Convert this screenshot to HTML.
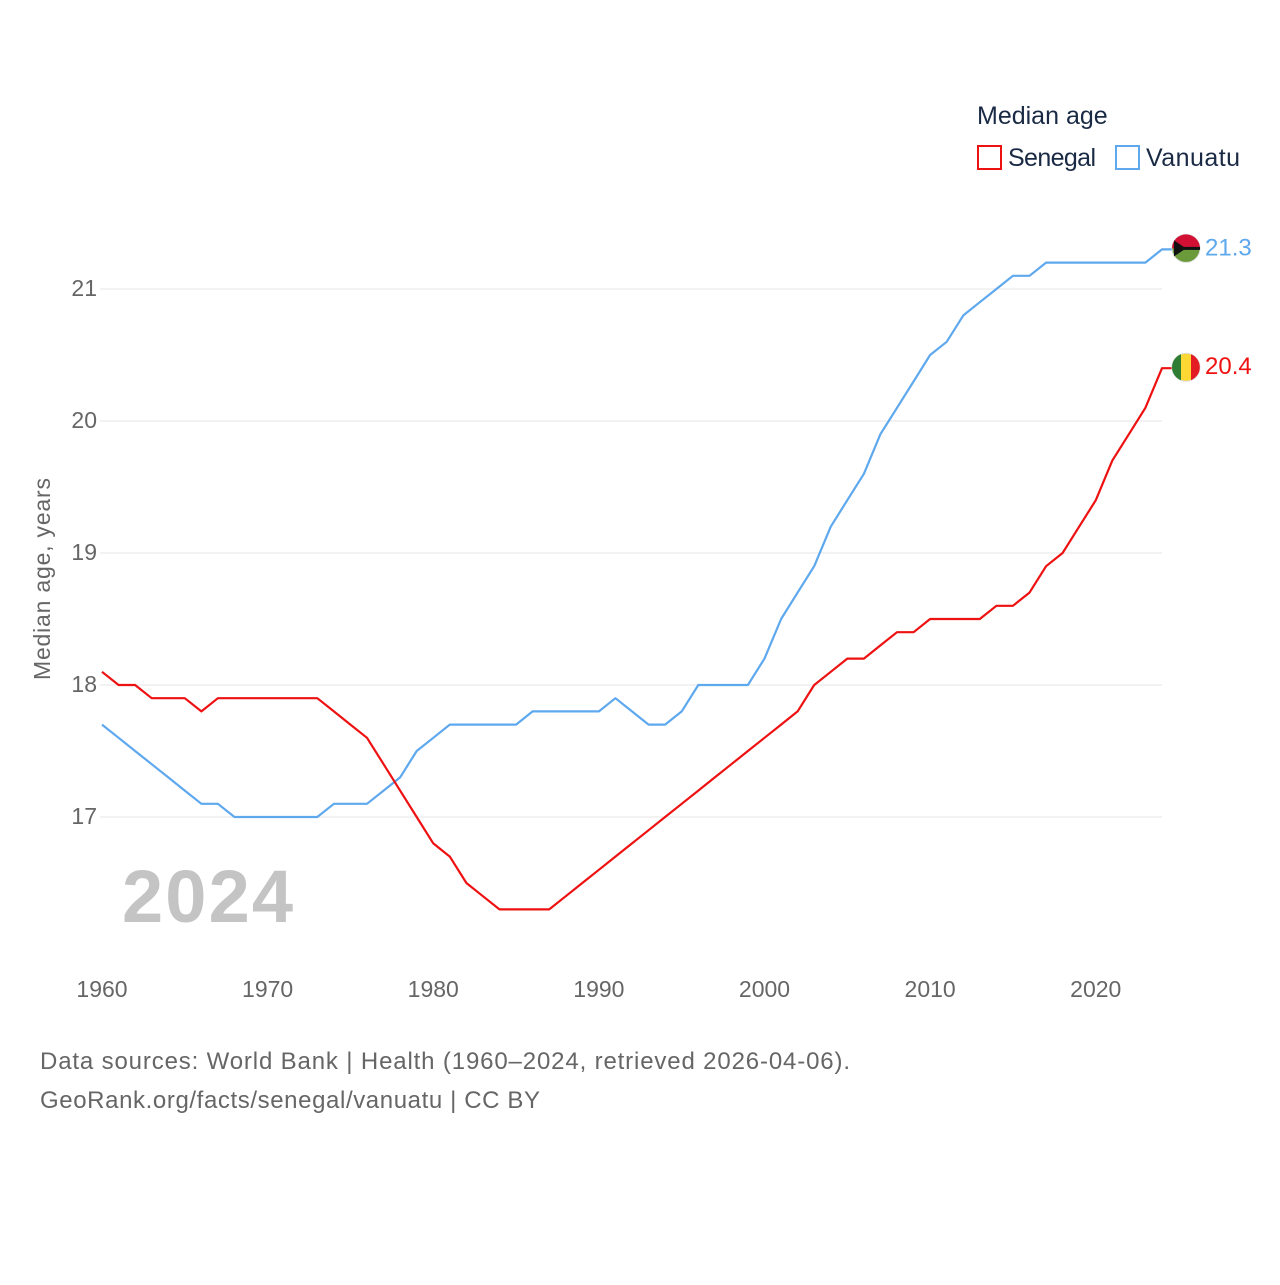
<!DOCTYPE html>
<html><head><meta charset="utf-8"><style>
body{margin:0;background:#fff;font-family:"Liberation Sans",sans-serif}
svg text{font-family:"Liberation Sans",sans-serif}
</style></head><body>
<svg id="chart" width="1280" height="1280" xmlns="http://www.w3.org/2000/svg">
<g id="grid"></g><g id="series"></g>
<text x="977" y="124" font-size="25" fill="#1a2a44">Median age</text>
<rect x="978" y="146" width="23" height="23" fill="none" stroke="#ee1111" stroke-width="2"/>
<text x="1008" y="166" font-size="25" fill="#1a2a44" textLength="88">Senegal</text>
<rect x="1116" y="146" width="23" height="23" fill="none" stroke="#5ea8ee" stroke-width="2"/>
<text x="1146" y="166" font-size="25" fill="#1a2a44" textLength="94">Vanuatu</text>
<text transform="translate(50,579) rotate(-90)" text-anchor="middle" font-size="23" fill="#666" textLength="202">Median age, years</text>
<text x="122" y="922" font-size="74" font-weight="bold" fill="#c4c4c4" textLength="171">2024</text>
<text x="40" y="1069" font-size="24" fill="#666" textLength="810">Data sources: World Bank | Health (1960–2024, retrieved 2026-04-06).</text>
<text x="40" y="1108" font-size="24" fill="#666" textLength="500">GeoRank.org/facts/senegal/vanuatu | CC BY</text>
</svg>
<script>
const years=[];for(let y=1960;y<=2024;y++)years.push(y);
const senegal=[18.1,18.0,18.0,17.9,17.9,17.9,17.8,17.9,17.9,17.9,17.9,17.9,17.9,17.9,17.8,17.7,17.6,17.4,17.2,17.0,16.8,16.7,16.5,16.4,16.3,16.3,16.3,16.3,16.4,16.5,16.6,16.7,16.8,16.9,17.0,17.1,17.2,17.3,17.4,17.5,17.6,17.7,17.8,18.0,18.1,18.2,18.2,18.3,18.4,18.4,18.5,18.5,18.5,18.5,18.6,18.6,18.7,18.9,19.0,19.2,19.4,19.7,19.9,20.1,20.4];
const vanuatu=[17.7,17.6,17.5,17.4,17.3,17.2,17.1,17.1,17.0,17.0,17.0,17.0,17.0,17.0,17.1,17.1,17.1,17.2,17.3,17.5,17.6,17.7,17.7,17.7,17.7,17.7,17.8,17.8,17.8,17.8,17.8,17.9,17.8,17.7,17.7,17.8,18.0,18.0,18.0,18.0,18.2,18.5,18.7,18.9,19.2,19.4,19.6,19.9,20.1,20.3,20.5,20.6,20.8,20.9,21.0,21.1,21.1,21.2,21.2,21.2,21.2,21.2,21.2,21.2,21.3];
const yTicks=[17,18,19,20,21];
const xTicks=[1960,1970,1980,1990,2000,2010,2020];
const X=y=>102+(y-1960)*(1162-102)/64;
const Y=v=>817-(v-17)*132;
const NS="http://www.w3.org/2000/svg";
const grid=document.getElementById('grid'),ser=document.getElementById('series');
function mk(tag,attrs,parent,txt){const e=document.createElementNS(NS,tag);for(const k in attrs)e.setAttribute(k,attrs[k]);if(txt!==undefined)e.textContent=txt;parent.appendChild(e);return e;}
yTicks.forEach(t=>{
 const l=mk('line',{x1:100,x2:1162,y1:Y(t),y2:Y(t),stroke:'#e6e6e6','stroke-width':1},grid);
 
 
 const tx=mk('text',{x:97,y:Y(t)+7,'text-anchor':'end','font-size':23,fill:'#666'},grid,String(t));
 
 
});
xTicks.forEach(t=>{
 const tx=mk('text',{x:X(t),y:997,'text-anchor':'middle','font-size':23,fill:'#666'},grid,String(t));
 
 
});
function draw(vals,color,name,label){
 const d=vals.map((v,i)=>(i?'L':'M')+X(years[i]).toFixed(1)+','+Y(v).toFixed(1)).join('')+'h10';
 const p=mk('path',{d:d,fill:'none',stroke:color,'stroke-width':2.2,'stroke-linejoin':'round'},ser);
 
 
 const last=vals[vals.length-1],cy=Y(last)-1;
 const c=mk('circle',{cx:1186,cy:cy,r:14,fill:name==='senegal'?'#fdd835':'#6a9a3a',stroke:'#ddd'},ser);
 
 
 if(name==='senegal'){mk('path',{d:`M1172,${cy} a14,14 0 0,1 9,-13 v26 a14,14 0 0,1 -9,-13z`,fill:'#2e7d32'},ser);mk('path',{d:`M1191,${cy-13} a14,14 0 0,1 0,26z`,fill:'#e31b23'},ser);}
 else{mk('path',{d:`M1172,${cy} a14,14 0 0,1 28,0z`,fill:'#d21034'},ser);mk('path',{d:`M1174,${cy-8} L1186,${cy} L1174,${cy+8}z`,fill:'#111'},ser);mk('line',{x1:1184,x2:1200,y1:cy,y2:cy,stroke:'#111','stroke-width':3},ser);}
 const t=mk('text',{x:1205,y:cy+7,'font-size':24,fill:color},ser,label(last));
 
 
}
draw(vanuatu,'#5ea8ee','vanuatu',v=>v.toFixed(1));
draw(senegal,'#ee1111','senegal',v=>v.toFixed(1));
</script>
</body></html>
